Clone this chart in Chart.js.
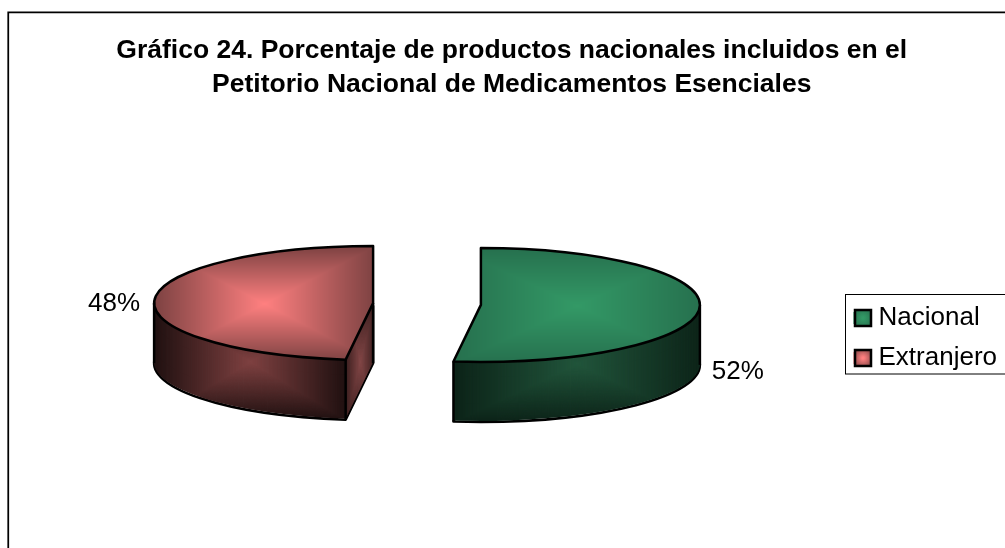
<!DOCTYPE html>
<html><head><meta charset="utf-8">
<style>html,body{margin:0;padding:0;background:#fff}canvas{display:block}</style>
<script src="https://cdn.jsdelivr.net/npm/chart.js@4/dist/chart.umd.js"></script>
</head><body><canvas id="c" width="1005" height="548"></canvas>
<script>
const titleLines = ['Gráfico 24. Porcentaje de productos nacionales incluidos en el', 'Petitorio Nacional de Medicamentos Esenciales'];
const categories = ['Nacional', 'Extranjero'];
const values = [52, 48];
const baseColors = ['#339966', '#FF8080'];
const topEdgeColors = [[38, 112, 78], [125, 66, 66]];
const topCenterColors = [[51, 153, 102], [255, 128, 128]];
const wallCenterColors = [[32, 84, 58], [126, 64, 64]];
const wallEdgeColors = [[11, 34, 23], [30, 15, 15]];
const cutCenterColors = [[32, 84, 58], [128, 68, 68]];
const cutEdgeColors = [[11, 34, 23], [60, 30, 30]];
const labelOffsets = [[38, 67], [-40, 1]];

const RADIUS = 219, SQUASH = 57 / 219, DEPTH = 60, EXPLODE = 54, CENTER_X = 427, CENTER_Y = 304;

function paintBox(img, box, cen, edge) {
  const W = img.width, hw = (box.x1 - box.x0) / 2, hh = (box.y1 - box.y0) / 2;
  const cx = (box.x0 + box.x1) / 2, cy = (box.y0 + box.y1) / 2;
  for (let y = Math.max(0, Math.floor(box.y0)); y < Math.min(img.height, Math.ceil(box.y1)); y++) {
    for (let x = Math.max(0, Math.floor(box.x0)); x < Math.min(W, Math.ceil(box.x1)); x++) {
      const t = Math.min(1, Math.max(Math.abs(x - cx) / hw, Math.abs(y - cy) / hh));
      const k = (y * W + x) * 4;
      for (let c = 0; c < 3; c++) img.data[k + c] = cen[c] + (edge[c] - cen[c]) * t;
      img.data[k + 3] = 255;
    }
  }
}
function makePattern(ctx, w, h, parts) {
  const off = document.createElement('canvas');
  off.width = w; off.height = h;
  const oc = off.getContext('2d');
  const img = oc.createImageData(w, h);
  parts.forEach(p => paintBox(img, p.box, p.cen, p.edge));
  oc.putImageData(img, 0, 0);
  return ctx.createPattern(off, 'no-repeat');
}
const cache = {};

const pie3d = {
  id: 'pie3d',
  beforeDatasetsDraw(chart) {
    const ctx = chart.ctx;
    chart.getDatasetMeta(0).data.forEach((arc, i) => {
      const s = arc.startAngle, e = arc.endAngle, mid = (s + e) / 2;
      const dx = Math.cos(mid) * EXPLODE + CENTER_X - arc.x, dy = Math.sin(mid) * EXPLODE;
      const apexX = arc.x + dx, apexY = CENTER_Y + dy * SQUASH;
      const R = arc.outerRadius;
      const rim = a => ({x: apexX + R * Math.cos(a), y: apexY + R * SQUASH * Math.sin(a)});
      const angs = [s, e];
      for (let k = -2; k <= 4; k++) { const a = k * Math.PI / 2; if (a > s && a < e) angs.push(a); }
      const pts = angs.map(rim).concat([{x: apexX, y: apexY}]);
      const minX = Math.min(...pts.map(p => p.x)), maxX = Math.max(...pts.map(p => p.x));
      const minY = Math.min(...pts.map(p => p.y)), maxY = Math.max(...pts.map(p => p.y));
      const low = Math.sin(s) > Math.sin(e) ? rim(s) : rim(e);
      const isLeft = Math.cos(mid) < 0;
      if (!cache[i]) {
        const w = chart.width, h = chart.height, yb = maxY + DEPTH;
        const parts = [];
        if (isLeft) {
          parts.push({box: {x0: minX, x1: low.x, y0: apexY, y1: yb}, cen: wallCenterColors[i], edge: wallEdgeColors[i]});
          parts.push({box: {x0: low.x, x1: apexX + 1, y0: apexY, y1: yb}, cen: cutCenterColors[i], edge: cutEdgeColors[i]});
        } else {
          parts.push({box: {x0: low.x, x1: maxX + 1, y0: apexY, y1: yb}, cen: wallCenterColors[i], edge: wallEdgeColors[i]});
        }
        cache[i] = {
          top: makePattern(ctx, w, h, [{box: {x0: minX, x1: maxX + 1, y0: minY, y1: maxY + 1}, cen: topCenterColors[i], edge: topEdgeColors[i]}]),
          wall: makePattern(ctx, w, h, parts)
        };
      }
      const place = d => ctx.setTransform(1, 0, 0, SQUASH, dx, CENTER_Y + d + (dy - arc.y) * SQUASH);
      const orig = arc.options;
      const fill = (pat, d) => {
        place(d);
        pat.setTransform(ctx.getTransform().inverse());
        arc.options = Object.assign({}, orig, {backgroundColor: pat, borderWidth: 0});
        arc.draw(ctx);
      };
      const outline = d => {
        place(d);
        ctx.beginPath();
        ctx.moveTo(arc.x, arc.y);
        ctx.arc(arc.x, arc.y, R, s, e);
        ctx.closePath();
        ctx.setTransform(1, 0, 0, 1, 0, 0);
        ctx.stroke();
      };
      const vert = p => {
        ctx.beginPath();
        ctx.moveTo(p.x, p.y);
        ctx.lineTo(p.x, p.y + DEPTH);
        ctx.stroke();
      };
      ctx.save();
      ctx.strokeStyle = '#000';
      ctx.lineWidth = 2.5;
      ctx.lineJoin = 'round';
      outline(DEPTH);
      for (let d = DEPTH - 1; d >= 1; d--) fill(cache[i].wall, d);
      ctx.setTransform(1, 0, 0, 1, 0, 0);
      vert(low);
      vert({x: isLeft ? minX : maxX, y: apexY});
      if (isLeft) vert({x: apexX, y: apexY});
      fill(cache[i].top, 0);
      outline(0);
      arc.options = orig;
      // percentage label
      const total = values.reduce((a, b) => a + b, 0);
      const txt = Math.round(values[i] / total * 100) + '%';
      ctx.fillStyle = '#000';
      ctx.font = '26px "Liberation Sans"';
      ctx.textAlign = 'center';
      ctx.textBaseline = 'middle';
      ctx.fillText(txt, (isLeft ? minX : maxX) + labelOffsets[i][0], apexY + labelOffsets[i][1]);
      ctx.restore();
    });
    return false;
  },
  afterDraw(chart) {
    const ctx = chart.ctx;
    ctx.save();
    ctx.setTransform(1, 0, 0, 1, 0, 0);
    ctx.strokeStyle = '#000';
    ctx.lineWidth = 1.75;
    ctx.beginPath();
    ctx.moveTo(8.25, chart.height);
    ctx.lineTo(8.25, 12.25);
    ctx.lineTo(chart.width, 12.25);
    ctx.stroke();
    ctx.lineWidth = 1;
    ctx.strokeRect(845.5, 294.5, 200, 79.5);
    chart.legend.legendHitBoxes.forEach((hb, i) => {
      const size = 16;
      const sx = hb.left + 1.5;
      const cy = hb.top + hb.height / 2;
      const g = ctx.createRadialGradient(sx + size / 2, cy, 1, sx + size / 2, cy, size * 0.7);
      g.addColorStop(0, baseColors[i]);
      g.addColorStop(1, 'rgb(' + topEdgeColors[i].join(',') + ')');
      ctx.fillStyle = g;
      ctx.fillRect(sx, cy - size / 2, size, size);
      ctx.lineWidth = 2.5;
      ctx.strokeRect(sx, cy - size / 2, size, size);
    });
    ctx.restore();
  }
};

new Chart(document.getElementById('c'), {
  type: 'pie',
  data: {labels: categories, datasets: [{data: values, backgroundColor: baseColors, borderWidth: 0}]},
  plugins: [pie3d],
  options: {
    responsive: false,
    animation: false,
    devicePixelRatio: 1,
    radius: RADIUS,
    layout: {padding: {left: 16.5, right: -2, top: 0, bottom: 163}},
    plugins: {
      tooltip: {enabled: false},
      title: {
        display: true,
        text: titleLines,
        color: '#000',
        font: {family: '"Liberation Sans"', size: 26.5, weight: 'bold', lineHeight: 1.3},
        padding: {top: 33, bottom: 10}
      },
      legend: {
        position: 'right',
        align: 'end',
        labels: {
          color: '#000',
          font: {family: '"Liberation Sans"', size: 26, lineHeight: 1},
          boxWidth: 12, boxHeight: 12, padding: 14,
          generateLabels: () => categories.map((text, i) => ({text, fillStyle: baseColors[i], strokeStyle: baseColors[i], lineWidth: 0, index: i, hidden: false}))
        }
      }
    }
  }
});
</script></body></html>
